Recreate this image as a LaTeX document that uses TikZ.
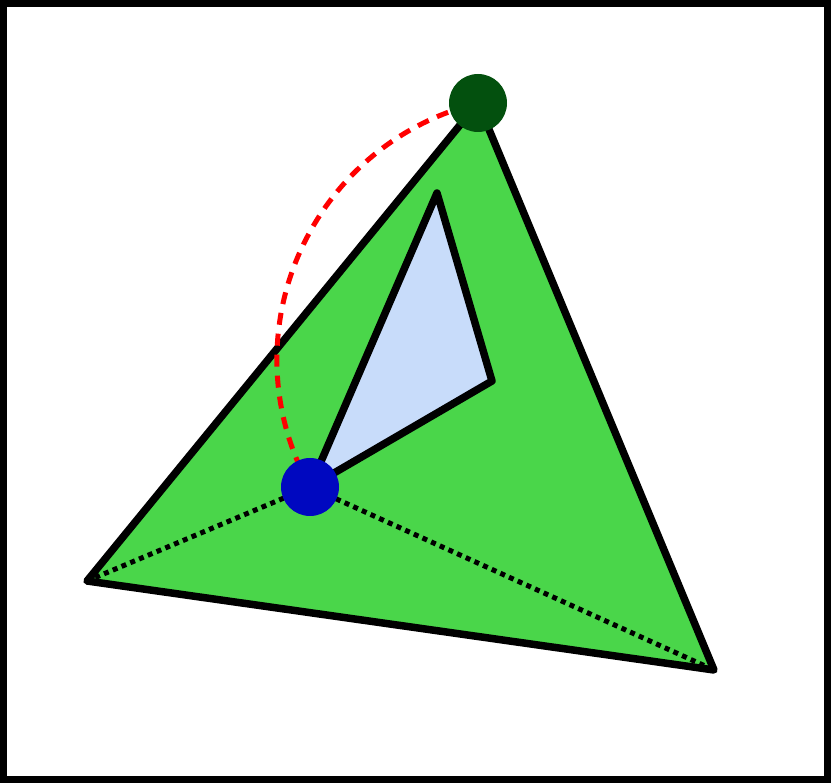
\documentclass[tikz,border=0pt]{standalone}
\usetikzlibrary{calc,positioning}
\definecolor{facegreen}{RGB}{74,214,74}
\definecolor{apexgreen}{RGB}{3,80,14}
\definecolor{pointblue}{RGB}{0,8,192}
\definecolor{wedgeblue}{RGB}{200,220,250}
\begin{document}
\begin{tikzpicture}[x=1pt, y=-1pt,
    edge/.style={line width=7.5pt, line join=round},
    spoke/.style={line width=5pt, dash pattern=on 5pt off 4.5pt},
    path arc/.style={line width=5pt, red, dash pattern=on 12pt off 9pt},
    dot/.style={circle, inner sep=0pt, minimum size=58pt}]
            % Frame
            \useasboundingbox (0,0) rectangle (831,783);
            \draw[line width=7pt] (3.5,3.5) rectangle (827.5,779.5);
            
            % Corners of the big triangle
            \coordinate (top) at (478,103);
            \coordinate (left) at (87,581);
            \coordinate (right) at (714,670);
            
            % Corners of the inner wedge
            \coordinate (base) at (310,487);
            \coordinate (tip) at (437,193);
            \coordinate (side) at (492,381);
            
            % Big triangle
            \draw[edge, fill=facegreen] (top) -- (left) -- (right) -- cycle;
            
            % Dotted spokes to the lower corners
            \draw[spoke] (base) -- (left);
            \draw[spoke] (base) -- (right);
            
            % Inner wedge
            \draw[edge, fill=wedgeblue] (base) -- (tip) -- (side) -- cycle;
            
            % Dashed arc between the points
            \draw[path arc] (base) .. controls (226,335) and (309,145) .. (top);
            
            % Points
            \node[dot, fill=pointblue] (start) at (base) {};
            \node[dot, fill=apexgreen] (goal) at (top) {};
        \end{tikzpicture}
\end{document}
